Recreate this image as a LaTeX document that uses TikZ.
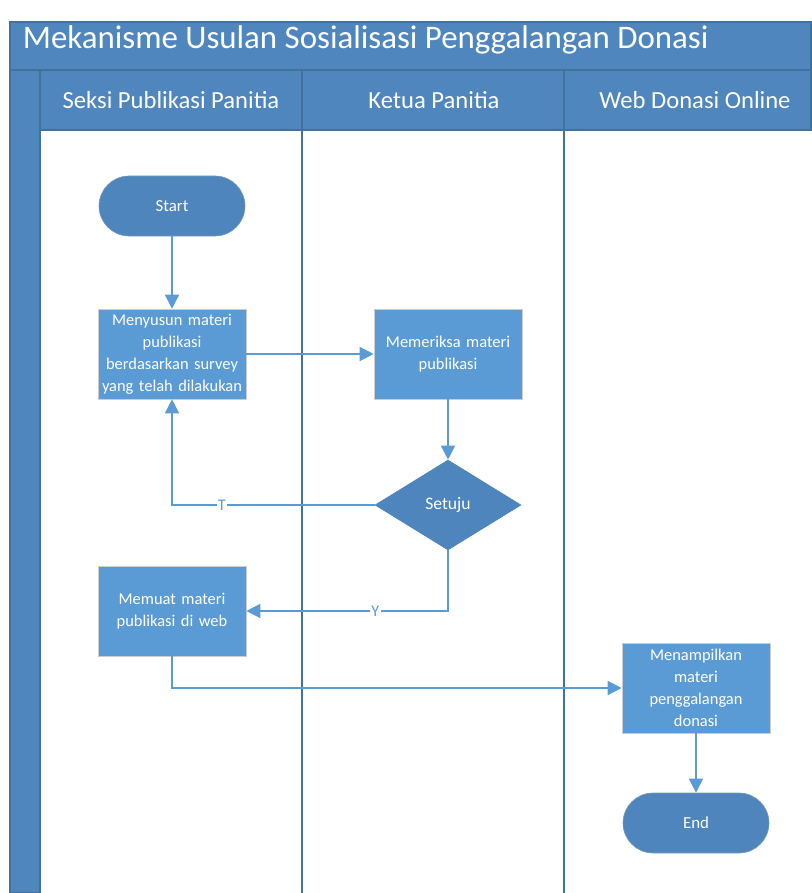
\documentclass[tikz,border=0pt]{standalone}
\usepackage{fontspec}
\setmainfont{Carlito}
\usetikzlibrary{arrows.meta, calc, shapes.geometric}
\definecolor{laneblue}{HTML}{4F86BE}
\definecolor{laneedge}{HTML}{41719C}
\definecolor{boxblue}{HTML}{5B9BD5}
\definecolor{termblue}{HTML}{4E85BC}

\begin{document}
\begin{tikzpicture}[x=0.025cm, y=-0.025cm,
    lane/.style={draw=laneedge, fill=laneblue, line width=0.8pt},
    lanetitle/.style={text=white, font=\fontsize{17.5}{20}\selectfont},
    proc/.style={draw=black!20, fill=boxblue, text=white, minimum width=3.7cm, minimum height=2.25cm,
        text width=3.7cm, align=center, inner sep=0pt, font=\fontsize{11.7}{15.7}\selectfont},
    term/.style={draw=laneedge!70, fill=termblue, text=white, rounded corners=0.75cm,
        minimum width=3.65cm, minimum height=1.5cm, font=\fontsize{12}{14}\selectfont},
    decision/.style={diamond, draw=termblue, fill=termblue, text=white, minimum width=3.65cm,
        minimum height=2.25cm, inner sep=0pt, font=\fontsize{12.5}{14}\selectfont},
    flow/.style={draw=boxblue, line width=1pt, -{Triangle[length=0.35cm, width=0.35cm]}},
    lbl/.style={fill=white, text=boxblue, inner sep=1pt, font=\fontsize{11.5}{13}\selectfont}]
    \useasboundingbox (0,0) rectangle (811,893);
    % pool and lanes
    \draw [lane] (10,22) rectangle (811,70);
    \draw [lane] (10,70) rectangle (40,893);
    \draw [lane] (40,70) rectangle (302,130);
    \draw [lane] (302,70) rectangle (564,130);
    \draw [lane] (564,70) rectangle (811,130);
    \draw [laneedge, line width=1pt] (302,130) -- (302,893);
    \draw [laneedge, line width=1pt] (564,130) -- (564,893);
    \node [anchor=west, text=white, font=\fontsize{23.4}{26}\selectfont] (judul) at (18,40) {Mekanisme Usulan Sosialisasi Penggalangan Donasi};
    \node [lanetitle] (seksi) at (171,100) {Seksi Publikasi Panitia};
    \node [lanetitle] (ketua) at (434,100) {Ketua Panitia};
    \node [lanetitle] (web) at (695,100) {Web Donasi Online};
    % steps
    \node [term] (start) at (172,206) {Start};
    \node [proc] (susun) at (172,354) {Menyusun materi\\publikasi\\berdasarkan survey\\yang telah dilakukan};
    \node [proc] (periksa) at (448,354) {Memeriksa materi\\publikasi};
    \node [decision] (setuju) at (448,505) {Setuju};
    \node [proc] (muat) at (172,611) {Memuat materi\\publikasi di web};
    \node [proc] (tampil) at (696,688) {Menampilkan\\materi\\penggalangan\\donasi};
    \node [term] (end) at (696,823) {End};
    % connectors
    \draw [flow] (start) -- (susun);
    \draw [flow] (susun) -- (periksa);
    \draw [flow] (periksa) -- (setuju);
    \draw [flow] (setuju.west) -| node [lbl, pos=0.377] {T} (susun.south);
    \draw [flow] (setuju.south) |- node [lbl, pos=0.68] {Y} (muat.east);
    \draw [flow] (muat.south) |- (tampil.west);
    \draw [flow] (tampil) -- (end);
\end{tikzpicture}
\end{document}
